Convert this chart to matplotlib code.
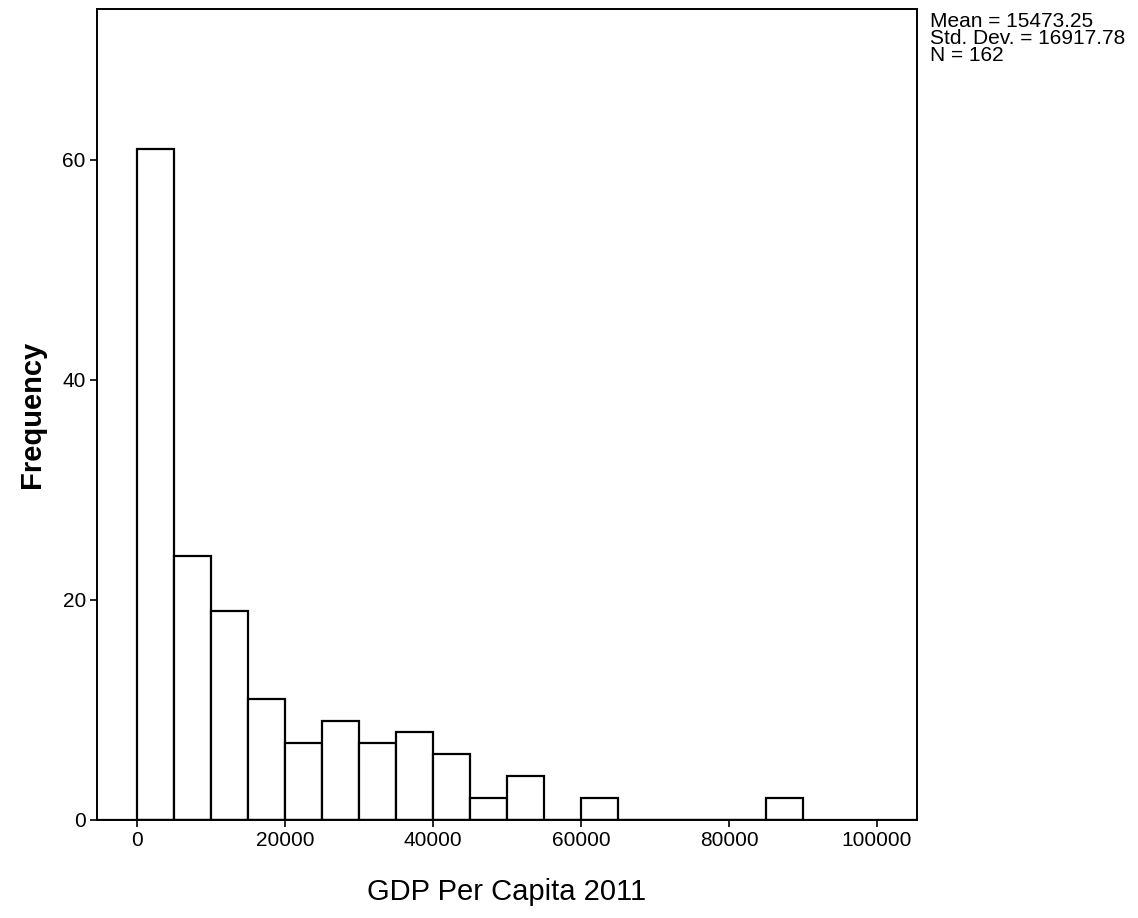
import matplotlib.pyplot as plt
import numpy as np

# Histogram counts (bin width 5000)
bin_edges = np.arange(0, 95000, 5000)
counts = [61, 24, 19, 11, 7, 9, 7, 8, 6, 2, 4, 0, 2, 0, 0, 0, 0, 2]
x_ticks = [0, 20000, 40000, 60000, 80000, 100000]
y_ticks = [0, 20, 40, 60]
stats_text = "Mean = 15473.25\nStd. Dev. = 16917.78\nN = 162"

plt.rcParams['font.family'] = ['Liberation Sans', 'DejaVu Sans']

fig = plt.figure(figsize=(11.38, 9.18), dpi=100)
ax = fig.add_axes([0.0852, 0.1068, 0.7206, 0.8832])

ax.bar(bin_edges[:-1], counts, width=5000, align='edge',
       color='white', edgecolor='black', linewidth=1.6)
ax.axhline(0, color='black', linewidth=1.6)

ax.set_xlim(-5400, 105400)
ax.set_ylim(0, 73.7)
ax.set_xticks(x_ticks)
ax.set_yticks(y_ticks)
ax.tick_params(axis='both', direction='out', length=5, width=1.2,
               labelsize=15, pad=3)
for s in ax.spines.values():
    s.set_linewidth(1.4)

ax.set_xlabel('GDP Per Capita 2011', fontsize=21, labelpad=20)
ax.set_ylabel('Frequency', fontsize=21, fontweight='bold', labelpad=12)

fig.text(0.817, 0.987, stats_text, fontsize=15, va='top', ha='left',
         linespacing=0.88)

fig.savefig('out.png', dpi=100)
